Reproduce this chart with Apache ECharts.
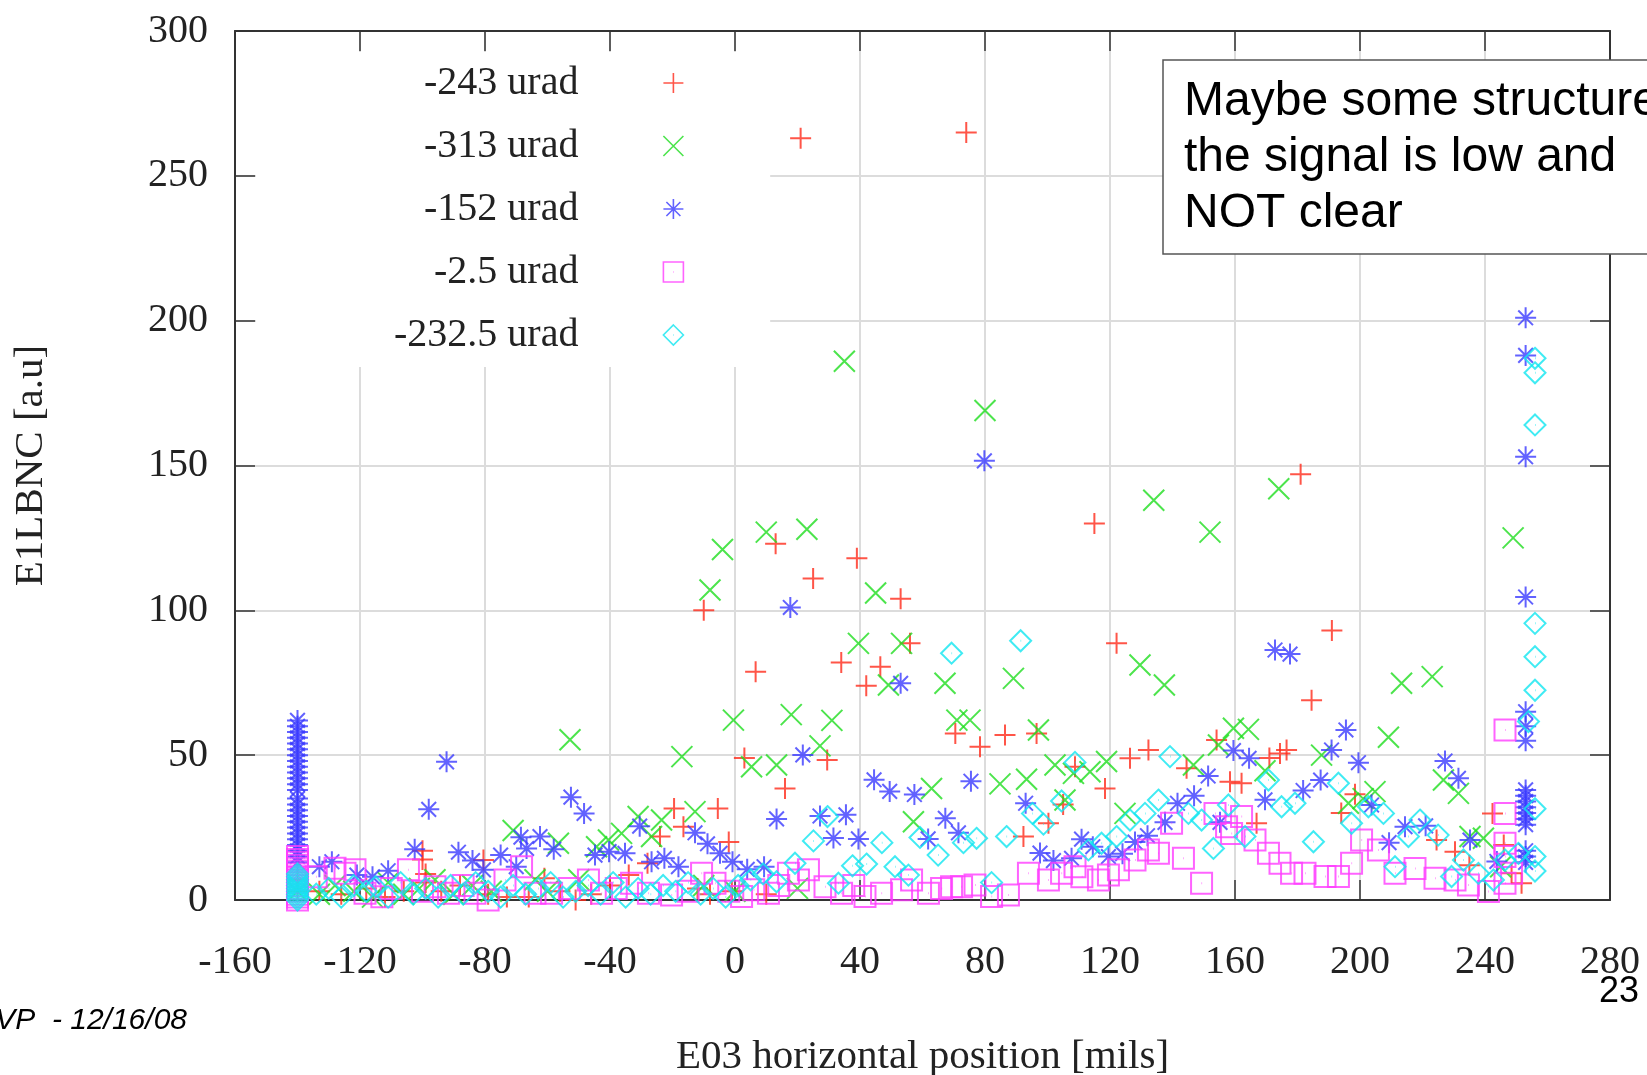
<!DOCTYPE html>
<html>
<head>
<meta charset="utf-8"/>
<title>E1LBNC vs E03 horizontal position</title>
<script src="https://cdn.jsdelivr.net/npm/echarts@6/dist/echarts.min.js"></script>
<style>
  html, body { margin: 0; padding: 0; background: #fff; }
  #chart { width: 1647px; height: 1075px; }
</style>
</head>
<body>
<div id="chart"></div>
<script>
// legend names
var seriesNames = ['-243 urad', '-313 urad', '-152 urad', '-2.5 urad', '-232.5 urad'];
var seriesColors = ['#ff2a1a', '#1fdd1f', '#3b3bff', '#ff3cff', '#10e6f0'];

// ticks
var xTicks = [-160, -120, -80, -40, 0, 40, 80, 120, 160, 200, 240, 280];
var yTicks = [0, 50, 100, 150, 200, 250, 300];

// -243 urad  (red +)
var red243 = [
  [-140,3],[-140,7],[-133,3],[-126,2],[-118,4],[-112,1],[-106,3],[-100,17],[-100,14],[-99,9],[-99,6],
  [-94,3],[-88,5],[-80.5,13.8],[-79,2],[-73,1],[-66,1],[-61,7.5],[-56,3],[-51,0],[-46,2],[-40,5],
  [-34,8.6],[-28,12.7],[-24,21.9],[-19.5,31.6],[-16.5,25.3],[-12,4],[-10,100],[-8,2],[-5.5,31.6],
  [-2,20],[-1,3],[3,49],[6.6,78.8],[10,2],[13,123],[16,38.5],[21,263],[25,111],[29.5,48.3],[34,82],
  [39,118],[42,74],[46.5,80.5],[53,104],[56,88.6],[70.5,57.5],[74,265],[78.4,52.9],[86.4,57],
  [92.3,21.9],[96.5,57.5],[100.3,26.5],[105,33],[108.8,46],[115,130],[118.4,38.5],[122.1,88.6],
  [126.4,48.9],[132.3,51.8],[144.5,45.5],[154.1,55.2],[158.4,40.8],[162.1,40.3],[166.9,26.5],
  [171,49],[174.4,50.6],[176.5,51.8],[181,147],[184.5,69],[191,93],[194,30],[198.4,36.5],
  [224.5,20.7],[230.4,16.7],[235,12],[242.4,29.9],[246,19],[248.5,9.2],[251.7,5.8]
];

// -313 urad  (green x)
var green313 = [
  [-140,3],[-133,2],[-128,5],[-122,3],[-116,1],[-111,6],[-106,2],[-101,4],[-96,7],[-90,2],[-84,5],
  [-78,3],[-71,24],[-64,7],[-60,3],[-56.5,19.6],[-52.8,55.3],[-50,7],[-44.3,18.4],[-40.5,20.7],
  [-36.3,23],[-31,28.8],[-26.7,21.9],[-23.5,27.6],[-17,49.5],[-12.8,30.5],[-10,5],[-8,107],[-4,121],
  [-0.5,62.1],[0,3],[5.3,46],[10,127],[13.3,46.6],[18,64],[20,4],[23,128],[27.2,53.2],[31,62],
  [35,186],[39.5,88.6],[45,106],[49.1,74.2],[53.3,88.6],[57.1,27],[62.9,38.5],[67.2,74.8],[71,62.1],
  [75.2,62.1],[80,169],[84.8,40.1],[89.1,76.5],[93.3,41.7],[97.1,58.7],[102.4,46.6],[105.6,34.5],
  [108.3,43.7],[113.6,44.3],[118.9,47.8],[124.8,29.9],[129.6,81.1],[134,138],[137.4,74.2],
  [146.7,46.6],[152,127],[154.7,53.5],[159.5,59.3],[164.3,58.9],[169.6,44.6],[174,142],[187.7,50],
  [196.3,33.4],[201,35],[204.8,37.4],[209.1,56.2],[213.3,74.8],[223.1,77.1],[226.7,41.4],
  [231.5,36.8],[235.2,21.9],[239.5,21.3],[245,11.5],[249,125]
];

// -152 urad  (blue *)
var blue152 = [
  [-140,62],[-140,60],[-140,58],[-140,56],[-140,54],[-140,52],[-140,50],[-140,48],[-140,46],[-140,44],
  [-140,42],[-140,40],[-140,38],[-140,35],[-140,33],[-140,31],[-140,29],[-140,27],[-140,25],[-140,23],
  [-140,21],[-140,19],[-140,17],[-140,15],[-140,13],
  [-133,11.5],[-129,13.2],[-121,8.6],[-116,8],[-111,10.1],[-102.5,17.5],[-98,31.3],[-92.3,47.7],
  [-88.5,16.5],[-84,13.6],[-80.5,10.4],[-75,15.5],[-70,11.5],[-68.5,21.7],[-66.7,17.8],[-62.4,21.9],
  [-58,17.5],[-52.5,35.5],[-48.3,29.9],[-44.8,15.5],[-40.3,16.7],[-35.2,16.1],[-30.5,25.5],
  [-26.7,13.2],[-22.6,14.4],[-18.1,11.5],[-12.8,23.2],[-8.8,19.4],[-4.8,16.1],[-0.8,13.2],[3.9,10.6],
  [9.3,11.5],[13.3,28],[17.7,101],[21.7,50.1],[27.2,29],[31.5,21.4],[35.5,29.4],[39.5,21.1],
  [44.5,41.5],[49.5,37.5],[53,74.8],[57.4,36.4],[61.8,21.1],[67.3,28.2],[71.5,23.2],[75.5,41],
  [79.8,151.6],[93,33.4],[97.6,16.2],[101.9,13.6],[107.7,14.4],[110.9,21],[114.5,18.4],[119.5,15],
  [124,16],[128,20],[132,22.2],[137.6,26.8],[141.6,33.4],[146.9,36],[151.4,42.8],[155.2,26.8],
  [159.5,51.6],[164.5,48.9],[169.6,34.6],[172.8,86.3],[177.6,84.9],[181.8,37.8],[187.4,41.4],
  [190.9,51.8],[195.5,58.7],[199.5,47.4],[203.7,32.8],[209.3,19.8],[214.4,25.3],[221,25.6],
  [227.2,48],[231.5,42],[235.2,20.7],[243.8,13.3],
  [253,201],[253,188],[253,153],[253,104.6],[253,65],[253,60],[253,55],[253,38],[253,36],[253,34],
  [253,32],[253,30],[253,28],[253,26],[253,17],[253,15],[253,13]
];

// -2.5 urad  (magenta squares)
var magenta25 = [
  [-140,15],[-140,14],[-140,13],[-140,12],[-140,11],[-140,10],[-140,9],[-140,8],[-140,7],[-140,6],
  [-140,5],[-140,4],[-140,3],[-140,2],[-140,1],[-140,0],
  [-134,8],[-128,11],[-124.8,9.2],[-121.6,10.4],[-118.4,2.3],[-113,1.1],[-110,4],[-104.5,10.4],
  [-100,3],[-96,4.6],[-91.7,2.3],[-87,5],[-83.2,2.3],[-79,0],[-73.6,6.9],[-68.3,11.5],[-64,2.3],
  [-58.7,2.3],[-53,4],[-46.9,6.9],[-42.7,2.3],[-38,4],[-33.1,5.8],[-27.7,2.3],[-20.3,1.7],[-15,3],
  [-10.7,9.2],[-6.4,5.8],[-2,3],[2.1,1.2],[6,3.5],[10.7,2.3],[14,5],[17.1,9.2],[20.3,6.9],[23.5,10.4],
  [28.8,4.6],[34.1,2.3],[38,5],[41.6,1.2],[46.9,2.3],[53.3,3.5],[56.5,6.9],[61.9,2.3],[66.1,4],
  [69.3,4.6],[72.5,4.6],[76.8,5.2],[82.1,1.2],[87.5,1.7],[93.9,9.2],[100.3,6.9],[104.5,9.2],
  [108.8,11.5],[111,8],[116.3,6.9],[119.5,8.6],[122.7,10.4],[128,13.8],[132.3,17.3],[135.5,16.1],
  [139.7,26.5],[143.5,14.4],[149.3,5.8],[153.6,29.9],[157.3,25.3],[158.9,23],[162.1,28.8],
  [166.4,20.7],[170.7,16.1],[174.4,12.7],[178.1,9.2],[182.4,9.2],[188.8,8.1],[193.1,8.1],
  [197.3,12.7],[200.5,20.7],[205.9,17.3],[211.2,9.2],[217.6,10.9],[224,7.5],[230.4,6.9],
  [234.7,5.2],[241.1,2.9],[246.4,5.8],[246.4,58.7],[246.4,29.9],[246.4,19.6],[246.4,15],[248.5,9.2]
];

// -232.5 urad  (cyan diamonds)
var cyan2325 = [
  [-140,9],[-140,8],[-140,7],[-140,6],[-140,5],[-140,4],[-140,3],[-140,2],[-140,1],[-140,0],
  [-134,2],[-130,4],[-126,1],[-122,5],[-118,3],[-115,4.6],[-111,1],[-107,6],[-103,2],[-99,4],
  [-95,1],[-91,5],[-87,2],[-83,6],[-79,3],[-75,1],[-71,5],[-67,2],[-63,4],[-59,6],[-55,1],[-51,3],
  [-47,5],[-43,2],[-39,6],[-35,1],[-31,4],[-27,2],[-23,5],[-19,3],[-15,6],[-11,2],[-7,4],[-3,1],
  [1,5],[5,7],[9,9],[13.3,6.3],[19.2,12.7],[25.1,20.4],[29.6,28.8],[33.1,5.8],[37.6,11.8],
  [42.1,12.4],[47,19.8],[51.2,11.5],[55.5,8.6],[59.2,21.6],[65,15.5],[69.3,85.2],[73.1,19.8],
  [77.3,21.3],[82.1,6],[86.9,21.9],[91.4,89.5],[95.2,29.9],[98.7,26.2],[104.5,34.2],[108.8,47.5],
  [113.1,17.3],[117.3,19.6],[122.1,21.9],[126.4,27.6],[131.2,29.9],[135.5,34.5],[139.2,49.5],
  [145.1,29.9],[149.3,27.6],[153.1,17.8],[157.9,32.8],[163.2,21.9],[170.7,41.4],[174.9,32.2],
  [179.2,33.4],[185.1,20.1],[193.1,40.3],[197.3,26.5],[202.7,32.2],[207.5,29.9],[211.2,11.5],
  [215.5,21.9],[219.2,27.6],[225,22.4],[229.3,8.1],[233.1,13.8],[237.9,9.2],[242.7,6.9],
  [246.4,13.8],[250.7,16.1],[253.9,61.6],
  [256,187],[256,182],[256,164],[256,95.5],[256,84],[256,72.4],[256,31.5],[256,15],[256,10]
];

var seriesData = [red243, green313, blue152, magenta25, cyan2325];

// gnuplot style point shapes, stroked only
var symbols = [
  'path://M0,10L20,10M10,0L10,20',
  'path://M0,0L20,20M20,0L0,20',
  'path://M0,10L20,10M10,0L10,20M3,3L17,17M17,3L3,17',
  'path://M0,0L20,0L20,20L0,20ZM10,10L10.5,10',
  'path://M10,0L20,10L10,20L0,10ZM10,10L10.5,10'
];

var serif = "'Liberation Serif', 'Times New Roman', serif";
var sans = "'Liberation Sans', Arial, sans-serif";

var myChart = echarts.init(document.getElementById('chart'), null, {renderer: 'canvas'});

var series = [];
for (var i = 0; i < seriesNames.length; i++) {
  series.push({
    name: seriesNames[i],
    type: 'scatter',
    data: seriesData[i],
    symbol: symbols[i],
    symbolSize: 21,
    silent: true,
    itemStyle: {
      color: 'rgba(0,0,0,0)',
      borderColor: seriesColors[i],
      borderWidth: 2
    }
  });
}

var frameLine = { show: true, onZero: false, lineStyle: { color: '#333', width: 2 } };
var innerTick = { show: true, inside: true, length: 20, lineStyle: { color: '#333', width: 1.5 } };

var option = {
  backgroundColor: '#fff',
  animation: false,
  grid: { left: 235, right: 37, top: 31, bottom: 175, containLabel: false, outerBoundsMode: 'none' },
  legend: {
    orient: 'vertical',
    left: 256,
    top: 52,
    align: 'right',
    padding: [11, 86, 12, 138],
    itemWidth: 20,
    itemHeight: 40,
    itemGap: 23,
    backgroundColor: '#fff',
    selectedMode: false,
    data: seriesNames,
    itemStyle: { borderWidth: 1.6 },
    textStyle: { fontFamily: serif, fontSize: 40, color: '#222', padding: [0, 80, 0, 0] }
  },
  xAxis: [{
    type: 'value', position: 'bottom',
    min: -160, max: 280, interval: 40,
    name: 'E03 horizontal position [mils]',
    nameLocation: 'middle', nameGap: 137,
    nameTextStyle: { fontFamily: serif, fontSize: 41, color: '#222' },
    axisLine: frameLine,
    axisTick: innerTick,
    axisLabel: { fontFamily: serif, fontSize: 40, color: '#222', margin: 42 },
    splitLine: { show: true, lineStyle: { color: '#dcdcdc', width: 2 } }
  }, {
    type: 'value', position: 'top',
    min: -160, max: 280, interval: 40,
    axisLine: frameLine,
    axisTick: innerTick,
    axisLabel: { show: false },
    splitLine: { show: false }
  }],
  yAxis: [{
    type: 'value', position: 'left',
    min: 0, max: 300, interval: 50,
    name: 'E1LBNC [a.u]',
    nameLocation: 'middle', nameGap: 183,
    nameTextStyle: { fontFamily: serif, fontSize: 41, color: '#222' },
    axisLine: frameLine,
    axisTick: innerTick,
    axisLabel: { fontFamily: serif, fontSize: 40, color: '#222', margin: 27 },
    splitLine: { show: true, lineStyle: { color: '#dcdcdc', width: 2 } }
  }, {
    type: 'value', position: 'right',
    min: 0, max: 300, interval: 50,
    axisLine: frameLine,
    axisTick: innerTick,
    axisLabel: { show: false },
    splitLine: { show: false }
  }],
  graphic: [
    {
      type: 'rect', z: 100,
      shape: { x: 1163, y: 60, width: 520, height: 194 },
      style: { fill: '#fff', stroke: '#555', lineWidth: 1.5 }
    },
    {
      type: 'text', z: 101, x: 1184, y: 74,
      style: {
        text: 'Maybe some structure\nthe signal is low and\nNOT clear',
        font: '48px ' + sans, fill: '#000',
        lineHeight: 56, textAlign: 'left', textVerticalAlign: 'top'
      }
    },
    {
      type: 'text', z: 101, x: 1639, y: 992,
      style: { text: '23', font: '36px ' + sans, fill: '#000', textAlign: 'right', textVerticalAlign: 'middle' }
    },
    {
      type: 'text', z: 101, x: 187, y: 1021,
      style: { text: 'VP  - 12/16/08', font: 'italic 30px ' + sans, fill: '#000', textAlign: 'right', textVerticalAlign: 'middle' }
    }
  ],
  series: series
};

// 使用刚指定的配置项和数据显示图表。
myChart.setOption(option);
</script>
</body>
</html>
